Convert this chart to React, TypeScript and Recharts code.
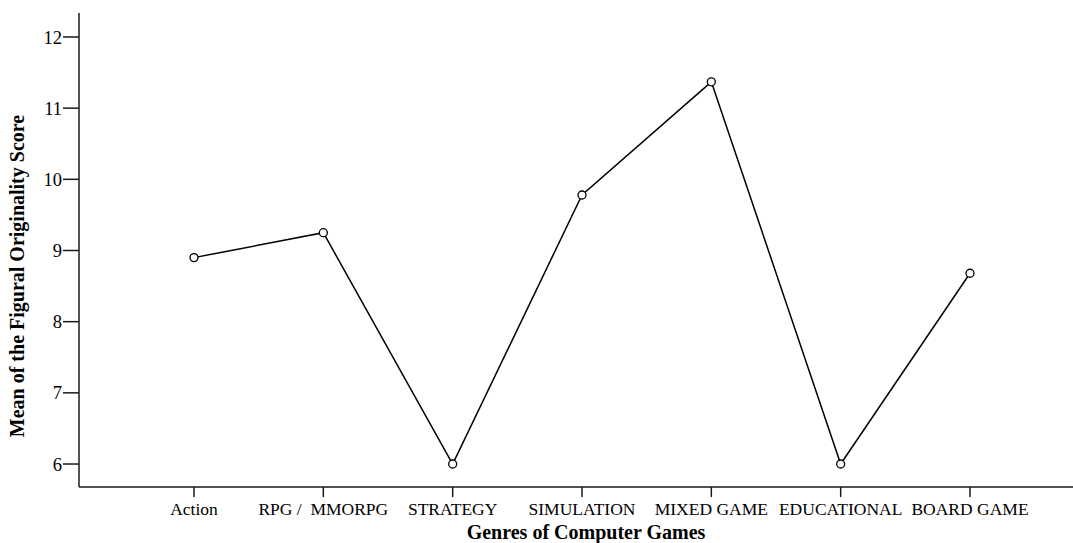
import { LineChart, Line, XAxis, YAxis } from "recharts";

// mean figural originality score per game genre
const genres = ["Action", "RPG /\u00a0\u00a0MMORPG", "STRATEGY", "SIMULATION", "MIXED GAME", "EDUCATIONAL", "BOARD GAME"];
const meanScores = [8.9, 9.25, 6.0, 9.78, 11.37, 6.0, 8.68];
const yTicks = [6, 7, 8, 9, 10, 11, 12];

const data = genres.map((g, i) => ({ genre: g, score: meanScores[i] }));

const font = "'Liberation Serif', 'Times New Roman', serif";
const ink = "#1a1a1a";

export default function App() {
    return (
        <div style={{ position: "absolute", left: 0, top: 0, background: "#fff" }}>
            <LineChart width={1073} height={543} data={data} margin={{ top: 13, right: 0, bottom: 26, left: 0 }}>
                <XAxis
                    dataKey="genre"
                    height={30}
                    padding={{ left: 115, right: 103 }}
                    interval={0}
                    tickSize={10}
                    tickMargin={6}
                    stroke={ink}
                    strokeWidth={1.5}
                    tick={{ fill: "#000", fontSize: 17.5, fontFamily: font }}
                />
                <YAxis
                    width={79}
                    domain={[5.677, 12.337]}
                    ticks={yTicks}
                    allowDataOverflow
                    tickSize={16}
                    tickMargin={1}
                    stroke={ink}
                    strokeWidth={1.5}
                    tick={{ fill: "#000", fontSize: 18.5, fontFamily: font }}
                />
                <Line
                    type="linear"
                    dataKey="score"
                    stroke="#000"
                    strokeWidth={1.5}
                    dot={{ r: 4, stroke: "#000", strokeWidth: 1.3, fill: "#fff" }}
                    activeDot={false}
                    isAnimationActive={false}
                />
                <text x={586} y={539} textAnchor="middle" fontFamily={font} fontWeight="bold" fontSize={20} fill="#000">
                    Genres of Computer Games
                </text>
                <text
                    x={24}
                    y={276}
                    transform="rotate(-90 24 276)"
                    textAnchor="middle"
                    fontFamily={font}
                    fontWeight="bold"
                    fontSize={20}
                    fill="#000"
                >
                    Mean of the Figural Originality Score
                </text>
            </LineChart>
        </div>
    );
}
